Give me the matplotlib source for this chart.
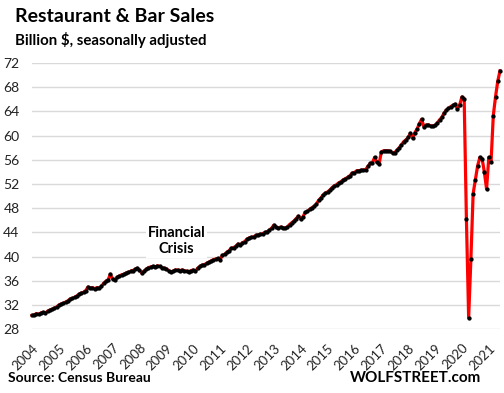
import matplotlib

matplotlib.use("Agg")

import matplotlib.pyplot as plt
import numpy as np

plt.rcParams["font.family"] = ["Lato", "DejaVu Sans"]

# monthly sales, billion $, Jan 2004 .. Jun 2021
sales_2004 = [30.3, 30.4, 30.6, 30.5, 30.7, 30.8, 30.7, 31.0, 31.2, 31.3, 31.5, 31.7]
sales_2005 = [32.0, 32.2, 32.3, 32.5, 32.7, 33.0, 33.1, 33.3, 33.5, 33.8, 34.0, 34.1]
sales_2006 = [34.4, 35.0, 34.8, 34.9, 34.7, 34.9, 34.8, 35.1, 35.6, 35.9, 36.2, 37.1]
sales_2007 = [36.3, 36.1, 36.6, 36.8, 37.0, 37.1, 37.3, 37.4, 37.6, 37.7, 37.9, 38.1]
sales_2008 = [37.8, 37.3, 37.6, 37.9, 38.2, 38.3, 38.4, 38.3, 38.5, 38.4, 38.2, 38.1]
sales_2009 = [38.0, 37.7, 37.5, 37.6, 37.8, 37.8, 37.7, 37.8, 37.7, 37.6, 37.5, 37.7]
sales_2010 = [37.8, 37.6, 38.1, 38.4, 38.6, 38.7, 38.9, 39.1, 39.3, 39.5, 39.6, 39.7]
sales_2011 = [39.5, 40.2, 40.4, 40.7, 41.0, 41.4, 41.5, 41.7, 42.1, 41.9, 42.3, 42.5]
sales_2012 = [42.9, 43.1, 43.2, 43.3, 43.5, 43.6, 43.7, 43.8, 44.0, 44.1, 44.4, 44.7]
sales_2013 = [45.2, 44.9, 44.7, 44.9, 44.8, 44.7, 44.9, 45.3, 45.6, 45.9, 46.3, 46.7]
sales_2014 = [46.2, 46.6, 47.3, 47.5, 47.8, 48.1, 48.3, 48.7, 49.3, 49.7, 50.2, 50.5]
sales_2015 = [50.7, 51.0, 51.4, 51.7, 51.9, 52.2, 52.4, 52.7, 52.9, 53.1, 53.4, 53.8]
sales_2016 = [53.9, 54.2, 54.2, 54.3, 54.3, 54.4, 54.9, 55.4, 55.5, 56.4, 55.6, 55.3]
sales_2017 = [57.3, 57.5, 57.5, 57.5, 57.4, 57.1, 57.2, 57.6, 58.0, 58.5, 59.0, 59.3]
sales_2018 = [59.7, 60.4, 59.6, 60.5, 61.1, 62.0, 62.7, 61.5, 61.7, 61.8, 61.6, 61.6]
sales_2019 = [61.7, 62.1, 62.6, 63.0, 63.7, 64.2, 64.5, 64.8, 65.0, 65.2, 64.4, 65.1]
sales_2020 = [66.4, 66.1, 46.2, 29.9, 39.6, 50.4, 52.7, 55.0, 56.4, 56.2, 54.0, 51.2]
sales_2021 = [56.4, 55.6, 63.3, 66.4, 69.0, 70.7]

sales = (sales_2004 + sales_2005 + sales_2006 + sales_2007 + sales_2008 + sales_2009
         + sales_2010 + sales_2011 + sales_2012 + sales_2013 + sales_2014 + sales_2015
         + sales_2016 + sales_2017 + sales_2018 + sales_2019 + sales_2020 + sales_2021)

years = [str(y) for y in range(2004, 2022)]
y_ticks = [28, 32, 36, 40, 44, 48, 52, 56, 60, 64, 68, 72]

fig = plt.figure(figsize=(5.04, 3.93), dpi=100)
ax = fig.add_axes([32 / 504, 1 - 329.3 / 393, 468 / 504, 266.3 / 393])

x = np.arange(len(sales))
ax.plot(x, sales, color="#ff0000", linewidth=2.3, zorder=3, clip_on=False)
ax.plot(x, sales, linestyle="none", marker="o", markersize=2.1, color="black", zorder=4, clip_on=False)

ax.set_xlim(0, len(sales) - 1)
ax.set_ylim(28, 72)
ax.set_yticks(y_ticks)
ax.set_yticklabels([str(v) for v in y_ticks], fontsize=10)
ax.set_xticks(np.arange(len(years)) * 12)
ax.set_xticklabels(years, fontsize=9.5, rotation=45, ha="right", rotation_mode="anchor")
ax.tick_params(axis="both", length=0, colors="#222222")
ax.tick_params(axis="y", pad=9)
ax.tick_params(axis="x", pad=9)
ax.grid(axis="y", color="#d9d9d9", linewidth=1.0)
ax.set_axisbelow(True)
for spine in ax.spines.values():
    spine.set_visible(False)

ax.text(64.5, 42.6, "Financial\nCrisis", fontsize=10.5, fontweight="bold", ha="center", va="center",
        linespacing=1.25, bbox=dict(facecolor="white", edgecolor="none", pad=1), zorder=5)

fig.text(15 / 504, 1 - 16 / 393, "Restaurant & Bar Sales", fontsize=14, fontweight="bold", va="center")
fig.text(15 / 504, 1 - 40 / 393, "Billion $, seasonally adjusted", fontsize=10.8, fontweight="bold", va="center")
fig.text(8 / 504, 1 - 378 / 393, "Source: Census Bureau", fontsize=10, fontweight="bold", va="center")
fig.text(481 / 504, 1 - 378 / 393, "WOLFSTREET.com", fontsize=11, fontweight="bold", va="center", ha="right")

fig.savefig("out.png", dpi=100)
